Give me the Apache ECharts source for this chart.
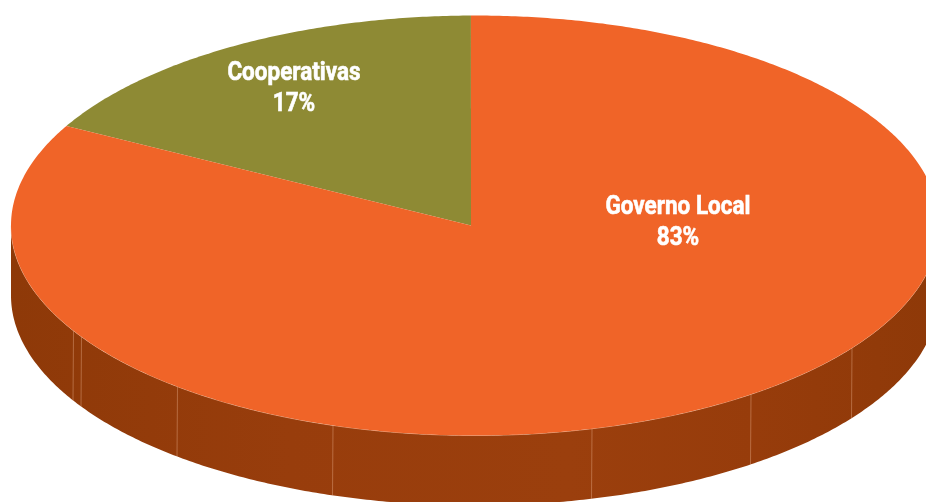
<!DOCTYPE html>
<html>
<head>
<meta charset="utf-8">
<style>html,body{margin:0;padding:0;background:#fff}#c{width:926px;height:502px}</style>
<script src="https://cdn.jsdelivr.net/npm/echarts@6/dist/echarts.min.js"></script>
</head>
<body>
<div id="c"></div>
<script>
const categories = ['Cooperativas', 'Governo Local'];
const shares = [17, 83];
const colors = ['#8e8a34', '#f06428'];

// Geometry of the tilted disc
const CX = 475, CY = 225.5, RX = 464, RY = 210, APEX_X = 471, DEPTH = 70, START_DEG = -0.5;
const SEAM_X = [73.5, 81.5, 177.5, 333, 592, 751, 852];
const LABEL_POS = [[294, 89], [678, 223]];
const LABEL_SCALE = 0.9;

const total = shares.reduce((a, b) => a + b, 0);
const pt = (deg, dy = 0) => {
  const r = deg * Math.PI / 180;
  return [CX + RX * Math.sin(r), CY - RY * Math.cos(r) + dy];
};
const arc = (from, to, dy = 0) => {
  const n = Math.max(2, Math.ceil(Math.abs(to - from) * 2)), out = [];
  for (let i = 0; i <= n; i++) out.push(pt(from + (to - from) * i / n, dy));
  return out;
};
const rimY = (x) => {
  const k = (x - CX) / RX;
  return CY + RY * Math.sqrt(1 - k * k);
};

function renderItem(params, api) {
  const idx = params.dataIndex;
  const before = shares.slice(0, idx).reduce((a, b) => a + b, 0);
  const value = api.value(0);
  // slices run counter-clockwise from twelve o'clock
  const a0 = START_DEG - before / total * 360;
  const a1 = a0 - value / total * 360;
  const children = [];
  if (idx === shares.length - 1) {
    const top = arc(90, 270);
    const bottom = arc(270, 90, DEPTH);
    children.push({
      type: 'polygon',
      shape: { points: top.concat(bottom) },
      style: {
        fill: new echarts.graphic.LinearGradient(0, 0, 1, 0, [
          { offset: 0, color: '#8e3908' },
          { offset: 0.3, color: '#983d0c' },
          { offset: 0.6, color: '#9b3f0d' },
          { offset: 0.8, color: '#973c0b' },
          { offset: 1, color: '#8e3908' }
        ])
      }
    });
    SEAM_X.forEach((x) => {
      const y = rimY(x);
      children.push({
        type: 'line',
        shape: { x1: x, y1: y, x2: x - 0.5, y2: y + DEPTH },
        style: { stroke: 'rgba(255,205,175,0.33)', lineWidth: 1 }
      });
    });
    children.push({
      type: 'polyline',
      shape: { points: arc(90, 270) },
      style: { stroke: 'rgba(255,215,190,0.55)', lineWidth: 1, fill: null }
    });
  }
  children.push({
    type: 'polygon',
    shape: { points: [[APEX_X, CY]].concat(arc(a0, a1)) },
    style: { fill: colors[idx] }
  });
  const [lx, ly] = LABEL_POS[idx];
  children.push({
    type: 'text',
    x: lx,
    y: ly,
    scaleX: LABEL_SCALE,
    z2: 10,
    style: {
      text: categories[idx] + '\n' + value + '%',
      fill: '#ffffff',
      stroke: '#ffffff',
      lineWidth: 0.6,
      font: 'bold 25px Roboto',
      lineHeight: 31.5,
      align: 'center',
      verticalAlign: 'middle'
    }
  });
  return { type: 'group', children };
}

const chart = echarts.init(document.getElementById('c'), null, { renderer: 'canvas' });
chart.setOption({
  animation: false,
  backgroundColor: '#ffffff',
  series: [{
    type: 'custom',
    coordinateSystem: 'none',
    silent: true,
    renderItem,
    data: shares.map((v, i) => ({ name: categories[i], value: [v] }))
  }]
});
</script>
</body>
</html>
